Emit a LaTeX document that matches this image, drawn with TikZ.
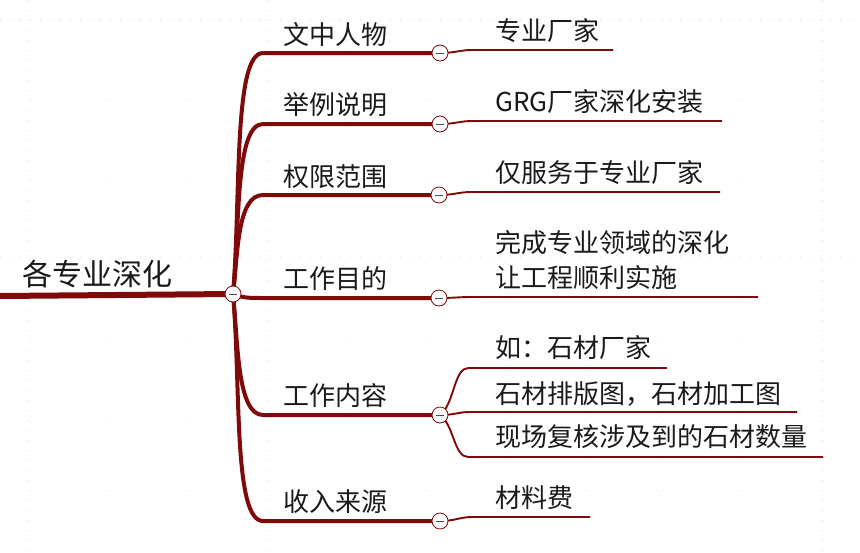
\documentclass[tikz,border=0pt]{standalone}
\usepackage{fontspec}
\setmainfont{Noto Sans CJK SC}
\usepackage{xcolor}
\definecolor{cMain}{HTML}{7E0A0A}
\definecolor{cText}{HTML}{1A1A1A}
\definecolor{cGrid}{HTML}{ECECEC}
\usepackage{tikz}
\usetikzlibrary{positioning,calc,backgrounds}
\tikzset{
  node-root/.style={anchor=south west,inner sep=0pt,text=cText,
    font=\fontsize{30}{36}\selectfont},
  node-topic/.style={anchor=south west,inner sep=0pt,text=cText,
    font=\fontsize{26}{35}\selectfont},
  node-leaf/.style={node-topic,align=left},
  % 折叠按钮：白底红圈，中间一道横线
  node-fold/.style={circle,draw=cMain,line width=0.8pt,fill=white,
    minimum size=16pt,inner sep=0pt,
    path picture={\draw[black!70,line width=1pt]
      ([xshift=-4pt]path picture bounding box.center) --
      ([xshift=4pt]path picture bounding box.center);}},
  line-root/.style={draw=cMain,line width=6pt},
  line-trunk/.style={draw=cMain,line width=4pt},
  line-leaf/.style={draw=cMain,line width=1.9pt},
  grid-dots/.style={draw=cGrid,line width=1.2pt,dash pattern=on 1.2pt off 8.8pt},
}

\begin{document}
\begin{tikzpicture}[x=1pt,y=-1pt]
  \useasboundingbox (0,0) rectangle (860,552);
  % 中心主题
  \node[node-root] (root) at (22,288) {各专业深化};
  \coordinate (w0) at (0,296);
  \node[node-fold] (f0) at (233,294) {};
  % 二级主题
  \node[node-topic] (t1) at (283,47) {文中人物};
  \node[node-topic] (t2) at (283,117) {举例说明};
  \node[node-topic] (t3) at (283,189) {权限范围};
  \node[node-topic] (t4) at (283,291) {工作目的};
  \node[node-topic] (t5) at (283,408) {工作内容};
  \node[node-topic] (t6) at (283,514) {收入来源};
  \node[node-fold] (f1) at (440,53) {};
  \node[node-fold] (f2) at (440,124) {};
  \node[node-fold] (f3) at (439,195) {};
  \node[node-fold] (f4) at (439,298) {};
  \node[node-fold] (f5) at (440,415) {};
  \node[node-fold] (f6) at (440,521) {};
  % 三级内容
  \node[node-leaf] (l1) at (495,43) {专业厂家};
  \node[node-leaf] (l2) at (495,114) {GRG厂家深化安装};
  \node[node-leaf] (l3) at (495,185) {仅服务于专业厂家};
  \node[node-leaf] (l4) at (495,290) {完成专业领域的深化\\让工程顺利实施};
  \node[node-leaf] (l5a) at (495,360) {如：石材厂家};
  \node[node-leaf] (l5b) at (495,406) {石材排版图，石材加工图};
  \node[node-leaf] (l5c) at (495,449) {现场复核涉及到的石材数量};
  \node[node-leaf] (l6) at (495,510) {材料费};
  \coordinate (e1) at (613,50);
  \coordinate (e2) at (722,121);
  \coordinate (e3) at (720,192);
  \coordinate (e4) at (758,297);
  \coordinate (e5a) at (667,368);
  \coordinate (e5b) at (797,412);
  \coordinate (e5c) at (823,457);
  \coordinate (e6) at (590,517);

  \begin{scope}[on background layer]
    % 底纹点线
    \foreach \gy in {20,99.3,...,540} \draw[grid-dots] (0,\gy) -- (860,\gy);
    \foreach \gx in {29,108.3,...,860} \draw[grid-dots] (\gx,0) -- (\gx,552);
    \draw[line-root] (w0) -- (f0.center);
    \draw[line-trunk] (f0.center) .. controls +(8,-94) and +(-30,0) ..
      ([xshift=30pt]f0 |- f1) -- (f1.center);
    \draw[line-trunk] (f0.center) .. controls +(7,-68) and +(-28,0) ..
      ([xshift=30pt]f0 |- f2) -- (f2.center);
    \draw[line-trunk] (f0.center) .. controls +(5,-40) and +(-26,0) ..
      ([xshift=30pt]f0 |- f3) -- (f3.center);
    \draw[line-trunk] (f0.center) .. controls +(10,4) and +(-14,0) ..
      ([xshift=30pt]f0 |- f4) -- (f4.center);
    \draw[line-trunk] (f0.center) .. controls +(5,48) and +(-26,0) ..
      ([xshift=30pt]f0 |- f5) -- (f5.center);
    \draw[line-trunk] (f0.center) .. controls +(8,90) and +(-30,0) ..
      ([xshift=30pt]f0 |- f6) -- (f6.center);
    % 子项连线
    \draw[line-leaf] (f1.center) .. controls +(15,0) and +(-12,0) ..
      ([xshift=32pt]f1 |- e1) -- (e1);
    \draw[line-leaf] (f2.center) .. controls +(15,0) and +(-12,0) ..
      ([xshift=32pt]f2 |- e2) -- (e2);
    \draw[line-leaf] (f3.center) .. controls +(15,0) and +(-12,0) ..
      ([xshift=32pt]f3 |- e3) -- (e3);
    \draw[line-leaf] (f4.center) .. controls +(15,0) and +(-12,0) ..
      ([xshift=32pt]f4 |- e4) -- (e4);
    \draw[line-leaf] (f5.center) .. controls +(14,-10) and +(-14,0) ..
      ([xshift=28pt]f5 |- e5a) -- (e5a);
    \draw[line-leaf] (f5.center) .. controls +(15,0) and +(-12,0) ..
      ([xshift=30pt]f5 |- e5b) -- (e5b);
    \draw[line-leaf] (f5.center) .. controls +(14,10) and +(-14,0) ..
      ([xshift=28pt]f5 |- e5c) -- (e5c);
    \draw[line-leaf] (f6.center) .. controls +(15,0) and +(-12,0) ..
      ([xshift=32pt]f6 |- e6) -- (e6);
  \end{scope}
\end{tikzpicture}
\end{document}
